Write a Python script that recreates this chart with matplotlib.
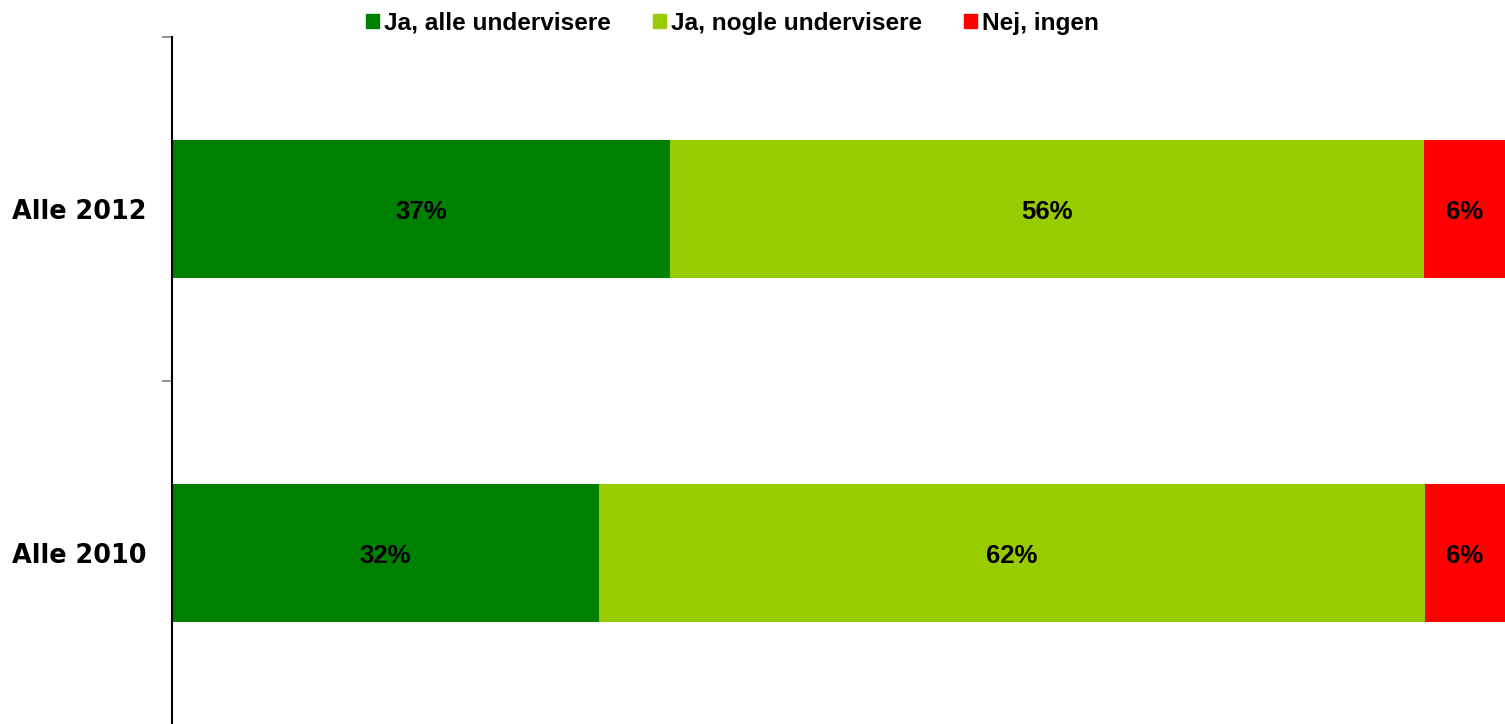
import matplotlib.pyplot as plt
from matplotlib.patches import Patch
import numpy as np

# Data
categories = ['Alle 2012', 'Alle 2010']
series = ['Ja, alle undervisere', 'Ja, nogle undervisere', 'Nej, ingen']
values = {
    'Ja, alle undervisere': [37, 32],
    'Ja, nogle undervisere': [56, 62],
    'Nej, ingen': [6, 6],
}
colors = ['#008000', '#99CC00', '#FF0000']

fig = plt.figure(figsize=(15.05, 7.24), dpi=100)
ax = fig.add_axes([172 / 1505, -1 / 724, 1 - 172 / 1505, 1 - 36 / 724])

y = np.arange(len(categories))
totals = np.sum([values[s] for s in series], axis=0)
left = np.zeros(len(categories))
for s, c in zip(series, colors):
    v = np.array(values[s], dtype=float)
    w = v / totals * 100
    ax.barh(y, w, left=left, height=0.4, color=c, label=s)
    for yi, li, wi, vi in zip(y, left, w, v):
        ax.text(li + wi / 2, yi + 0.01, f'{vi:.0f}%', ha='center', va='center',
                fontsize=18.5, fontweight='bold', family='Liberation Sans')
    left += w

ax.set_xlim(0, 100)
ax.set_ylim(len(categories) - 0.5, -0.5)

# ticks on band edges, labels at band centres
ax.set_yticks(np.arange(len(categories) + 1) - 0.5)
ax.set_yticklabels([])
ax.tick_params(axis='y', which='major', length=7, width=1.2, color='#808080')
ax.set_yticks(y, minor=True)
ax.set_yticklabels(categories, minor=True, fontsize=18.4, fontweight='bold',
                   family='DejaVu Sans')
ax.tick_params(axis='y', which='minor', length=0, pad=18)
ax.set_xticks([])

for side in ['top', 'right', 'bottom']:
    ax.spines[side].set_visible(False)
ax.spines['left'].set_linewidth(1.5)

handles = [Patch(color=c, label=s) for s, c in zip(series, colors)]
fig.legend(handles=handles, loc='center', bbox_to_anchor=(0.4867, 0.968),
           ncol=3, frameon=False, borderpad=0,
           handlelength=0.55, handleheight=0.55, handletextpad=0.2,
           columnspacing=1.7,
           prop={'family': 'Liberation Sans', 'weight': 'bold', 'size': 17.6})

fig.savefig('out.png', dpi=100)
